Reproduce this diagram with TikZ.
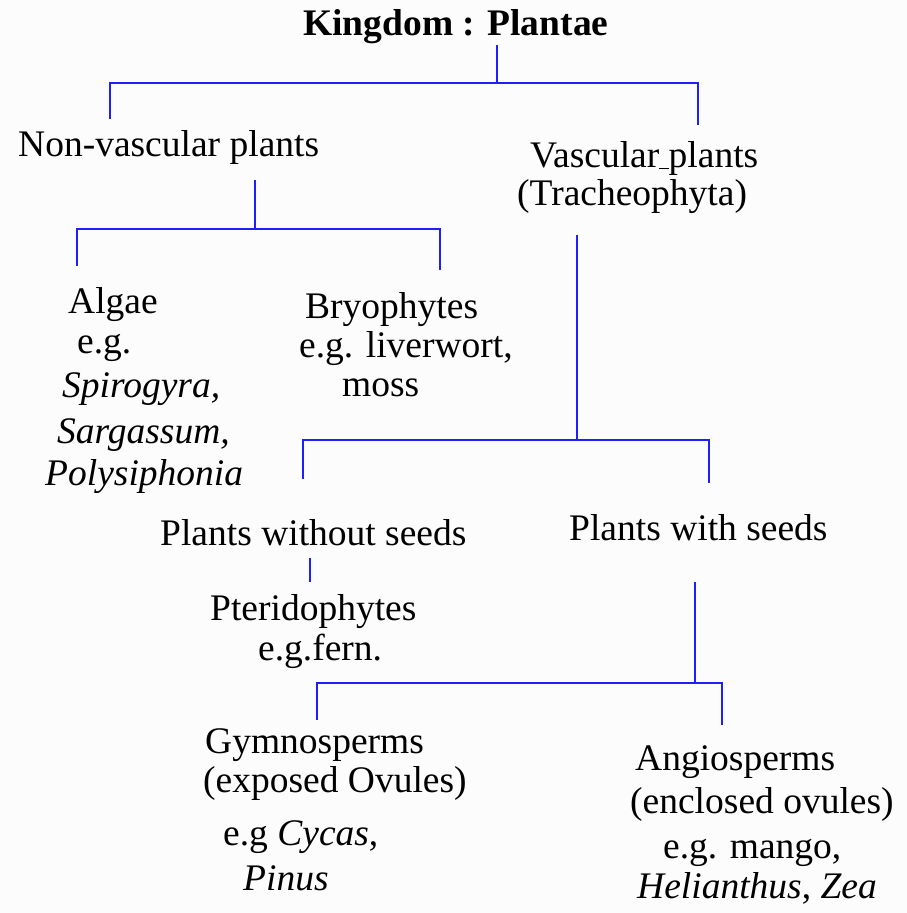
\documentclass[tikz,border=0pt]{standalone}
\usepackage{fontspec}
\setmainfont{Liberation Serif}
\usepackage{xcolor}
\usetikzlibrary{positioning}

\definecolor{linkblue}{RGB}{30,30,255}
\definecolor{paper}{RGB}{252,252,252}

\begin{document}
\begin{tikzpicture}[
  x=1pt, y=-1pt,
  txt/.style={anchor=base west, inner sep=0pt, font=\fontsize{37.5}{40}\selectfont},
  head/.style={anchor=base west, inner sep=0pt, font=\fontsize{37.5}{40}\selectfont\bfseries},
  branch/.style={draw=linkblue, line width=2.8pt}
]
\fill[paper] (0,0) rectangle (907,913);

% taxa
\node[head] (king) at (303,35) {Kingdom : Plantae};
\node[txt] (nonvasc) at (18,156) {Non-vascular plants};
\node[txt] (vasc) at (530,167) {Vascular\underline{\ }plants};
\node[txt] (trach) at (517,205) {(Tracheophyta)};

\node[txt] (algae) at (68,313) {Algae};
\node[txt] (algae-eg) at (77,353) {e.g.};
\node[txt] (spiro) at (62,397) {\itshape Spirogyra,};
\node[txt] (sarg) at (57,443) {\itshape Sargassum,};
\node[txt] (poly) at (45,485) {\itshape Polysiphonia};

\node[txt] (bryo) at (305,318) {Bryophytes};
\node[txt] (bryo-eg) at (299,357) {e.g. liverwort,};
\node[txt] (moss) at (342,396) {moss};

\node[txt] (noseed) at (160,545) {Plants without seeds};
\node[txt] (seed) at (569,540) {Plants with seeds};

\node[txt] (pter) at (210,620) {Pteridophytes};
\node[txt] (pter-eg) at (258,660) {e.g.fern.};

\node[txt] (gymno) at (205,753) {Gymnosperms};
\node[txt] (gymno-ov) at (203,792) {(exposed Ovules)};
\node[txt] (gymno-eg) at (223,845) {e.g \textit{Cycas},};
\node[txt] (pinus) at (243,890) {\itshape Pinus};

\node[txt] (angio) at (635,770) {Angiosperms};
\node[txt] (angio-ov) at (630,813) {(enclosed ovules)};
\node[txt] (angio-eg) at (663,858) {e.g. mango,};
\node[txt] (heli) at (637,898) {\textit{Helianthus}, \textit{Zea}};

% branch points
\coordinate (k-root) at (497,45);
\coordinate (k-fork) at (497,83);
\coordinate (nv-end) at (110,119);
\coordinate (v-end) at (698,125);

\coordinate (nv-root) at (255,180);
\coordinate (nv-fork) at (255,229);
\coordinate (al-end) at (77,266);
\coordinate (br-end) at (440,270);

\coordinate (v-root) at (577,235);
\coordinate (v-fork) at (577,440);
\coordinate (ns-end) at (303,479);
\coordinate (ws-end) at (709,483);

\coordinate (ns-root) at (310,558);
\coordinate (pt-end) at (310,582);

\coordinate (ws-root) at (695,582);
\coordinate (ws-fork) at (695,683);
\coordinate (gy-end) at (317,720);
\coordinate (an-end) at (722,725);

% tree
\draw[branch] (k-root) -- (k-fork);
\draw[branch] (nv-end) -- (nv-end |- k-fork) -- (v-end |- k-fork) -- (v-end);
\draw[branch] (nv-root) -- (nv-fork);
\draw[branch] (al-end) -- (al-end |- nv-fork) -- (br-end |- nv-fork) -- (br-end);
\draw[branch] (v-root) -- (v-fork);
\draw[branch] (ns-end) -- (ns-end |- v-fork) -- (ws-end |- v-fork) -- (ws-end);
\draw[branch] (ns-root) -- (pt-end);
\draw[branch] (ws-root) -- (ws-fork);
\draw[branch] (gy-end) -- (gy-end |- ws-fork) -- (an-end |- ws-fork) -- (an-end);
\end{tikzpicture}
\end{document}
